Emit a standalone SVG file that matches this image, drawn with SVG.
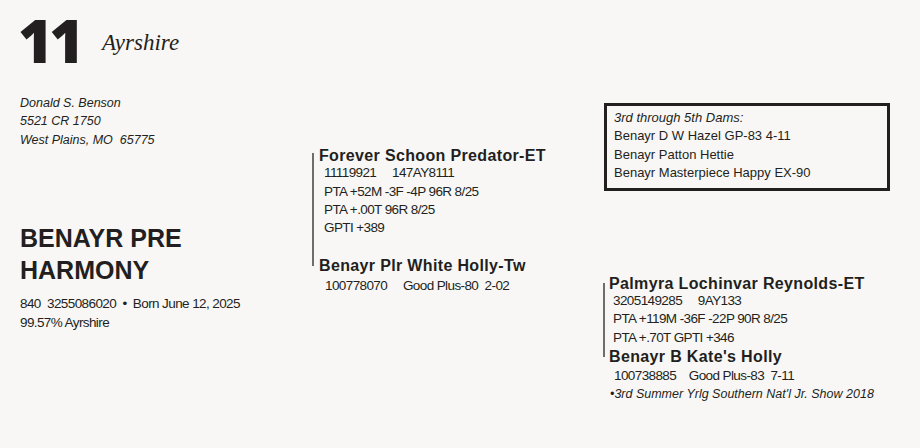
<svg xmlns="http://www.w3.org/2000/svg" width="920" height="448" viewBox="0 0 920 448">
<style>
.bg{fill:#f8f7f6}
.t{font-family:"Liberation Sans",Arial,sans-serif;fill:#231f20}
.num{font-family:"Open Sans","DejaVu Sans",sans-serif;font-weight:800;font-size:60px;fill:#231f20;letter-spacing:-4px}
.script{font-family:"Liberation Serif",serif;font-style:italic;font-size:23px;fill:#231f20}
.addr{font-size:12.5px;font-style:italic}
.big{font-size:25px;font-weight:bold}
.small{font-size:13.5px;letter-spacing:-0.6px}
.name{font-size:16px;font-weight:bold;letter-spacing:0.35px}
.box{font-size:13px}
.it{font-style:italic}
.vl{stroke:#6d6d6d;stroke-width:2}
</style>
<rect class="bg" x="0" y="0" width="920" height="448"/>
<g id="header">
<text class="num" x="18" y="63">11</text>
<text class="script" x="102" y="50">Ayrshire</text>
</g>
<g id="owner">
<text class="t addr" x="20" y="107">Donald S. Benson</text>
<text class="t addr" x="20" y="125">5521 CR 1750</text>
<text class="t addr" x="20" y="144" xml:space="preserve">West Plains, MO  65775</text>
</g>
<g id="animal">
<text class="t big" x="20" y="247">BENAYR PRE</text>
<text class="t big" x="20" y="279">HARMONY</text>
<text class="t small" x="20" y="308" xml:space="preserve">840  3255086020  •  Born June 12, 2025</text>
<text class="t small" x="20" y="327">99.57% Ayrshire</text>
</g>
<g id="connectors">
<line class="vl" x1="313" y1="153" x2="313" y2="266"/>
<line class="vl" x1="604" y1="283" x2="604" y2="357" stroke-width="1.5"/>
</g>
<g id="sire">
<text class="t name" x="319" y="161">Forever Schoon Predator-ET</text>
<text class="t small" x="324" y="177" xml:space="preserve">11119921     147AY8111</text>
<text class="t small" x="324" y="196">PTA +52M -3F -4P 96R 8/25</text>
<text class="t small" x="324" y="214">PTA +.00T 96R 8/25</text>
<text class="t small" x="324" y="232">GPTI +389</text>
</g>
<g id="dam">
<text class="t name" x="319" y="271">Benayr Plr White Holly-Tw</text>
<text class="t small" x="325" y="290" xml:space="preserve">100778070     Good Plus-80  2-02</text>
</g>
<g id="dams-box">
<rect x="605.5" y="104.5" width="283" height="85" fill="none" stroke="#231f20" stroke-width="3"/>
<text class="t box it" x="614" y="122">3rd through 5th Dams:</text>
<text class="t box" x="614" y="140">Benayr D W Hazel GP-83 4-11</text>
<text class="t box" x="614" y="159">Benayr Patton Hettie</text>
<text class="t box" x="614" y="177">Benayr Masterpiece Happy EX-90</text>
</g>
<g id="maternal-grandsire">
<text class="t name" x="609" y="289">Palmyra Lochinvar Reynolds-ET</text>
<text class="t small" x="613" y="305" xml:space="preserve">3205149285     9AY133</text>
<text class="t small" x="613" y="323">PTA +119M -36F -22P 90R 8/25</text>
<text class="t small" x="613" y="342">PTA +.70T GPTI +346</text>
</g>
<g id="granddam">
<text class="t name" x="609" y="362">Benayr B Kate's Holly</text>
<text class="t small" x="614" y="380" xml:space="preserve">100738885    Good Plus-83  7-11</text>
<text class="t small it" x="610" y="398" style="font-size:12.5px;letter-spacing:0">•3rd Summer Yrlg Southern Nat'l Jr. Show 2018</text>
</g>
</svg>
